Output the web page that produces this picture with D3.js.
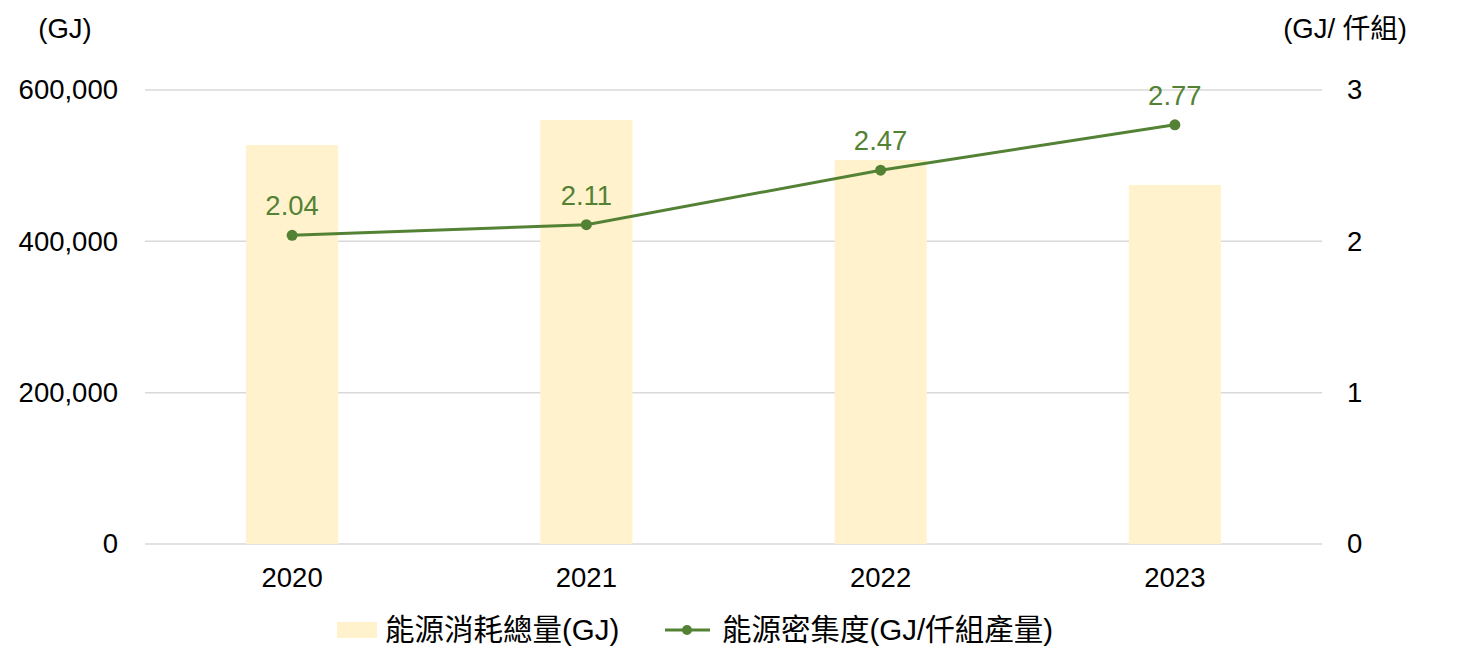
<!DOCTYPE html>
<html><head><meta charset="utf-8">
<script src="https://cdn.jsdelivr.net/npm/d3@7"></script>
<style>
body{margin:0;background:#fff;}
text{font-family:"Liberation Sans",Arial,"Noto Sans CJK TC",sans-serif;}
</style></head>
<body><svg id="c" width="1471" height="665"></svg>
<script>
const years = ["2020","2021","2022","2023"];
const energyTotal = [527300, 560300, 507500, 474500];
const intensity = [2.04, 2.11, 2.47, 2.77];
const leftTicks = [0, 200000, 400000, 600000];
const rightTicks = [0, 1, 2, 3];
const seriesNames = ["能源消耗總量(GJ)", "能源密集度(GJ/仟組產量)"];
const leftUnit = "(GJ)";
const rightUnit = "(GJ/ 仟組)";

const svg = d3.select("#c");
const L = 145, R = 1322, T = 90, B = 544;
const fs = 27.5;
const x = d3.scaleBand().domain(years).range([L, R]).paddingInner(0.687).paddingOuter(0.3435);
const yL = d3.scaleLinear().domain([0, 600000]).range([B, T]);
const yR = d3.scaleLinear().domain([0, 3]).range([B, T]);
const cx = d => x(d) + x.bandwidth() / 2;

// grid
svg.append("g").selectAll("line").data(leftTicks).join("line")
  .attr("x1", L).attr("x2", R).attr("y1", d => yL(d)).attr("y2", d => yL(d))
  .attr("stroke", "#d9d9d9").attr("stroke-width", 1.5);

// bars
svg.append("g").selectAll("rect").data(years).join("rect")
  .attr("x", d => x(d)).attr("width", x.bandwidth())
  .attr("y", (d, i) => yL(energyTotal[i])).attr("height", (d, i) => B - yL(energyTotal[i]))
  .attr("fill", "#fff2cc");

// left axis
const axL = d3.axisLeft(yL).tickValues(leftTicks).tickFormat(d3.format(",")).tickSize(0).tickPadding(27);
const gL = svg.append("g").attr("transform", `translate(${L},0)`).call(axL);
gL.select(".domain").remove();
gL.selectAll("text").attr("font-size", fs).attr("fill", "#000").attr("font-family", "Liberation Sans, Arial, sans-serif");

const axR = d3.axisRight(yR).tickValues(rightTicks).tickFormat(d3.format("d")).tickSize(0).tickPadding(25);
const gR = svg.append("g").attr("transform", `translate(${R},0)`).call(axR);
gR.select(".domain").remove();
gR.selectAll("text").attr("font-size", fs).attr("fill", "#000").attr("font-family", "Liberation Sans, Arial, sans-serif");

const axB = d3.axisBottom(x).tickSize(0).tickPadding(23);
const gB = svg.append("g").attr("transform", `translate(0,${B})`).call(axB);
gB.select(".domain").remove();
gB.selectAll("text").attr("font-size", fs).attr("fill", "#000").attr("font-family", "Liberation Sans, Arial, sans-serif");

// units
svg.append("text").attr("x", 65).attr("y", 38).attr("text-anchor", "middle").attr("font-size", fs).text(leftUnit);
svg.append("text").attr("x", 1345).attr("y", 38).attr("text-anchor", "middle").attr("font-size", fs).text(rightUnit);

// line
const green = "#548235";
const line = d3.line().x((d, i) => cx(years[i])).y(d => yR(d));
svg.append("path").datum(intensity).attr("d", line).attr("fill", "none").attr("stroke", green).attr("stroke-width", 3);
svg.append("g").selectAll("circle").data(intensity).join("circle")
  .attr("cx", (d, i) => cx(years[i])).attr("cy", d => yR(d)).attr("r", 5.5).attr("fill", green);
svg.append("g").selectAll("text").data(intensity).join("text")
  .attr("x", (d, i) => cx(years[i])).attr("y", d => yR(d) - 20)
  .attr("text-anchor", "middle").attr("font-size", fs).attr("fill", green)
  .text(d => d.toFixed(2));

// legend
const lfs = 29.5;
const lg = svg.append("g");
lg.append("rect").attr("x", 337).attr("y", 622).attr("width", 40).attr("height", 16).attr("fill", "#fff2cc");
lg.append("text").attr("x", 385).attr("y", 640).attr("font-size", lfs).text(seriesNames[0]);
lg.append("line").attr("x1", 665).attr("x2", 710).attr("y1", 630).attr("y2", 630).attr("stroke", green).attr("stroke-width", 3);
lg.append("circle").attr("cx", 687).attr("cy", 630).attr("r", 5).attr("fill", green);
lg.append("text").attr("x", 722).attr("y", 640).attr("font-size", lfs).text(seriesNames[1]);
</script></body></html>
